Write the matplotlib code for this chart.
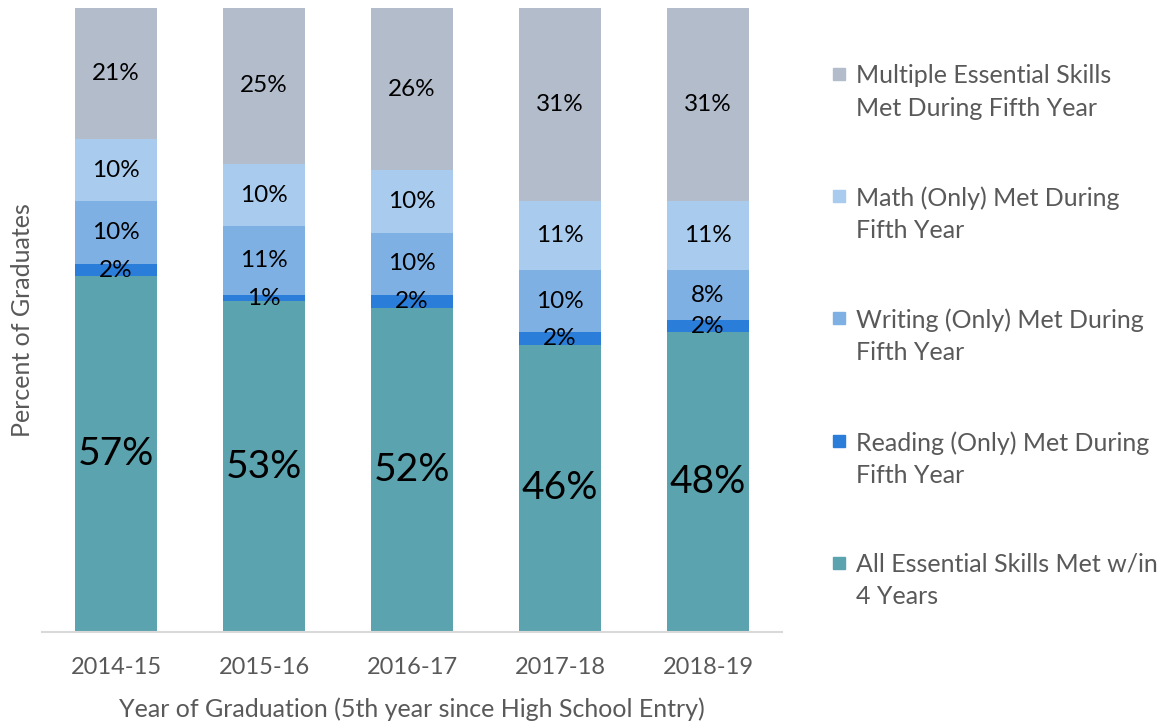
import matplotlib
matplotlib.use('Agg')
import matplotlib.pyplot as plt
from matplotlib.patches import Rectangle
import numpy as np

plt.rcParams['font.family'] = ['Lato', 'DejaVu Sans']

# 数据
years = ['2014-15', '2015-16', '2016-17', '2017-18', '2018-19']
all_four = [57, 53, 52, 46, 48]
reading = [2, 1, 2, 2, 2]
writing = [10, 11, 10, 10, 8]
math_only = [10, 10, 10, 11, 11]
multiple = [21, 25, 26, 31, 31]

series = [all_four, reading, writing, math_only, multiple]
names = ['All Essential Skills Met w/in\n4 Years',
         'Reading (Only) Met During\nFifth Year',
         'Writing (Only) Met During\nFifth Year',
         'Math (Only) Met During\nFifth Year',
         'Multiple Essential Skills\nMet During Fifth Year']
colors = ['#5BA3AE', '#2A7DD8', '#7EB0E4', '#A9CBEE', '#B3BCCB']

W, H = 1166, 724
fig = plt.figure(figsize=(W / 100, H / 100), dpi=100)
ax = fig.add_axes([42 / W, 92 / H, 740 / W, 624 / H])

x = np.arange(len(years))
bottom = np.zeros(len(years))
for vals, name, c in zip(series, names, colors):
    ax.bar(x, vals, 0.554, bottom=bottom, color=c, label=name)
    for xi, v, b0 in zip(x, vals, bottom):
        size = 28 if name.startswith('All') else 17.5
        ax.text(xi, b0 + v / 2, f'{v}%', ha='center', va='center',
                fontsize=size, color='black')
    bottom += np.array(vals)

ax.set_xlim(-0.5, 4.5)
ax.set_ylim(0, 100)
ax.set_yticks([])
ax.set_xticks(x)
ax.set_xticklabels(years, fontsize=17, color='#595959')
ax.tick_params(axis='x', length=0, pad=18)
for s in ['top', 'right', 'left']:
    ax.spines[s].set_visible(False)
ax.spines['bottom'].set_color('#D9D9D9')
ax.spines['bottom'].set_linewidth(1.5)

ax.set_xlabel('Year of Graduation (5th year since High School Entry)',
              fontsize=18, color='#595959', labelpad=14)
ax.set_ylabel('Percent of Graduates', fontsize=18, color='#595959', labelpad=6)

# 图例（手动绘制，方块对齐第一行）
legend_y = [74, 196, 318, 441, 563]
for yy, name, c in zip(legend_y, names[::-1], colors[::-1]):
    fig.add_artist(Rectangle((833 / W, 1 - (yy + 6) / H), 12 / W, 12 / H,
                             transform=fig.transFigure, color=c))
    fig.text(856 / W, 1 - (yy - 10) / H, name, fontsize=18, color='#595959',
             va='top', ha='left', linespacing=1.5)

fig.savefig('out.png', dpi=100)
